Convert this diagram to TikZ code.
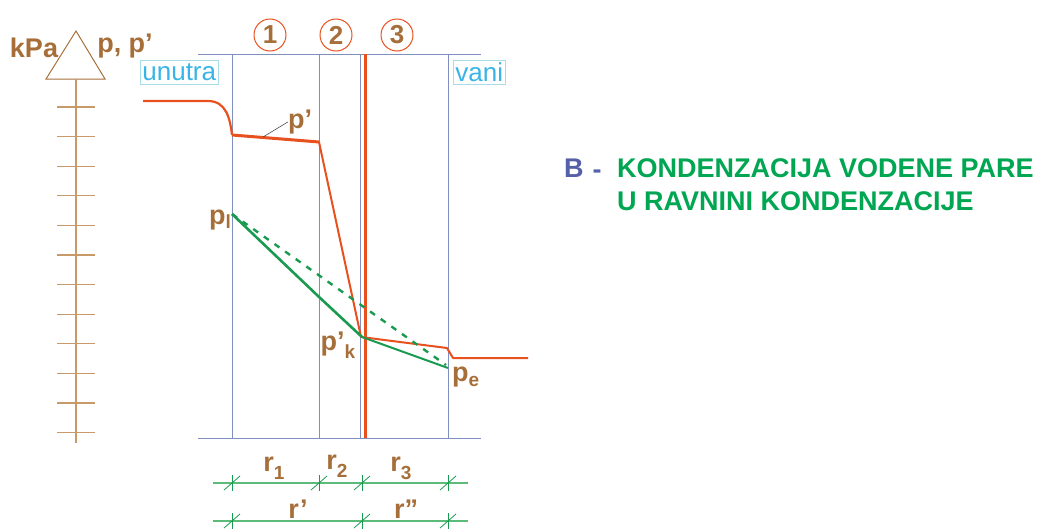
\documentclass[tikz,border=0pt]{standalone}
\usepackage{fontspec}
\setmainfont{Liberation Sans}
\definecolor{org}{HTML}{E8501E}
\definecolor{bl}{HTML}{7F8FC0}
\definecolor{brn}{HTML}{A66F3A}
\definecolor{grn}{HTML}{1A9A50}
\definecolor{lgrn}{HTML}{5DBB7A}
\definecolor{axb}{HTML}{C89A6A}
\definecolor{cyn}{HTML}{3AB4E6}
\definecolor{cybox}{HTML}{A8DCE6}
\definecolor{bB}{HTML}{5560A8}
\definecolor{tgrn}{HTML}{00A651}
\tikzset{
  wall/.style={draw=bl, line width=1pt},
  lbl/.style={text=brn, font=\bfseries\fontsize{27}{27}\selectfont, inner sep=0pt},
  circ/.style={circle, draw=org, line width=1pt, minimum size=32pt, inner sep=0pt, text=brn, font=\bfseries\fontsize{26}{26}\selectfont},
  sidebox/.style={draw=cybox, line width=0.8pt, text=cyn, font=\fontsize{26}{26}\selectfont, inner xsep=2pt, inner ysep=0pt, minimum height=24pt},
  dimline/.style={draw=lgrn, line width=1.5pt},
  tick/.style={draw=grn, line width=0.8pt},
  axis/.style={draw=axb, line width=1.2pt},
}
\newcommand{\sbs}[2]{\raisebox{#1}{\fontsize{19}{19}\selectfont #2}}
\begin{document}
\begin{tikzpicture}[x=1pt,y=-1pt]
\useasboundingbox (0,0) rectangle (1046,530);
% walls
\coordinate (tl) at (198,54); \coordinate (tr) at (481,54);
\coordinate (bl) at (198,438); \coordinate (br) at (481,438);
\draw[wall] (tl) -- (tr);
\draw[wall] (bl) -- (br);
\foreach \x/\n in {232/a,319/b,360/c,448/d}{
  \coordinate (w\n t) at (\x,54); \coordinate (w\n b) at (\x,438);
  \draw[wall] (w\n t) -- (w\n b);
}
\coordinate (ct) at (365,54); \coordinate (cb) at (365,438);
\draw[draw=org, line width=3pt] (ct) -- (cb);
% circles
\node[circ] (c1) at (270,35) {1};
\node[circ] (c2) at (336,35) {2};
\node[circ] (c3) at (397,35) {3};
% side boxes
\node[sidebox, anchor=west] (unutra) at (140,72) {unutra};
\node[sidebox, anchor=west] (vani) at (453,72) {vani};
% p' curve
\coordinate (o0) at (143,101); \coordinate (o1) at (208,101);
\coordinate (o2) at (232,135); \coordinate (o3) at (319,142);
\coordinate (o4) at (361,337); \coordinate (o5) at (447,348);
\coordinate (o6) at (453,358); \coordinate (o7) at (528,358);
\draw[draw=org, line width=2.2pt, line join=round] (o0) -- (o1) .. controls (226,101) and (230,118) .. (o2);
\draw[draw=org, line width=3pt] (o2) -- (o3);
\draw[draw=org, line width=2pt, line join=round] (o3) -- (o4) -- (o5) -- (o6) -- (o7);
% green lines
\coordinate (g0) at (232,214); \coordinate (g1) at (318,296);
\coordinate (g2) at (362,337); \coordinate (g3) at (448,368);
\coordinate (gd) at (446,365);
\draw[draw=grn, line width=2.6pt, line join=round] (g0) -- (g1) -- (g2);
\draw[draw=grn, line width=2pt] (g2) -- (g3);
\draw[draw=grn, line width=2.4pt, dash pattern=on 6pt off 7pt] (g0) -- (gd);
% labels
\node[lbl] (pp) at (300,122) {p’};
\coordinate (ppl) at (263,137);
\draw[draw=black!70, line width=0.6pt] (ppl) -- (pp.west);
\node[lbl, anchor=east] (pi) at (231,220) {p\sbs{-4pt}{l}};
\node[lbl] (pk) at (338,345) {p’\sbs{-8pt}{k}};
\node[lbl, anchor=west] (pe) at (452,377) {p\sbs{-5pt}{e}};
% axis
\coordinate (ax) at (76,31); \coordinate (axl) at (46,79); \coordinate (axr) at (105,79);
\draw[draw=brn, line width=1pt, line join=miter] (ax) -- (axl) -- (axr) -- cycle;
\coordinate (axb) at (76,443);
\draw[axis] (76,79) -- (axb);
\foreach \i in {0,...,11}{
  \draw[axis] (57,{107+29.6*\i}) -- (95,{107+29.6*\i});
}
\node[lbl, anchor=south] (kpa) at (34,58) {kPa};
\node[lbl, anchor=south] (ppp) at (125,58) {p, p’};
% dimension rows
\coordinate (d1l) at (213,483); \coordinate (d1r) at (468,483);
\coordinate (d2l) at (213,521); \coordinate (d2r) at (468,521);
\draw[dimline] (d1l) -- (d1r);
\draw[dimline] (d2l) -- (d2r);
\foreach \x in {232,319,362,448}{
  \draw[tick] (\x,475) -- (\x,491);
  \draw[tick] (\x-8,490) -- (\x+8,476);
}
\foreach \x in {232,362,448}{
  \draw[tick] (\x,513) -- (\x,529);
  \draw[tick] (\x-8,528) -- (\x+8,514);
}
\node[lbl] (r1) at (274,468) {r\sbs{-8pt}{1}};
\node[lbl] (r2) at (337,466) {r\sbs{-8pt}{2}};
\node[lbl] (r3) at (401,468) {r\sbs{-8pt}{3}};
\node[lbl] (rp) at (298,509) {r’};
\node[lbl] (rpp) at (406,509) {r”};
% title
\node[anchor=west, inner sep=0pt, text=bB, font=\bfseries\fontsize{27}{27}\selectfont] (tb) at (564,168) {B};
\node[anchor=west, inner sep=0pt, text=tgrn, font=\bfseries\fontsize{27}{27}\selectfont] (t1) at (617,168) {KONDENZACIJA VODENE PARE};
\node[anchor=base, inner sep=0pt, text=bB, font=\bfseries\fontsize{27}{27}\selectfont] (dash) at (597,178) {-};
\node[anchor=west, inner sep=0pt, text=tgrn, font=\bfseries\fontsize{27}{27}\selectfont] (t2) at (617,201) {U RAVNINI KONDENZACIJE};
\end{tikzpicture}
\end{document}
